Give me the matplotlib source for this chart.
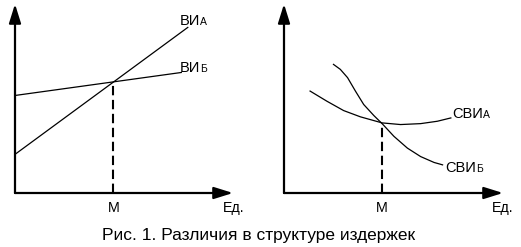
import matplotlib
matplotlib.use("Agg")
import matplotlib.pyplot as plt
from matplotlib.patches import FancyArrowPatch

plt.rcParams['font.family'] = ['Liberation Sans', 'DejaVu Sans']

# ---- data ----
vi_a_x = [0.0, 8.0]
vi_a_y = [2.1, 9.0]
vi_b_x = [0.0, 7.7]
vi_b_y = [5.3, 6.55]
m_left = 4.55
m_left_y = 6.05

svi_a_x = [1.26, 2.07, 2.88, 3.69, 4.74, 5.63, 6.60, 7.41, 8.06]
svi_a_y = [5.54, 4.99, 4.48, 4.14, 3.81, 3.72, 3.77, 3.90, 4.08]
svi_b_x = [2.39, 2.72, 3.07, 3.45, 3.85, 4.34, 4.74, 5.31, 5.96, 6.60, 7.25, 7.66]
svi_b_y = [6.99, 6.72, 6.27, 5.54, 4.81, 4.21, 3.77, 3.08, 2.44, 1.98, 1.66, 1.53]
m_right = 4.74
m_right_y = 3.80

x_tick_label = "М"
x_axis_label = "Ед."
caption = "Рис. 1. Различия в структуре издержек"

W, H = 521, 247
fig = plt.figure(figsize=(W / 100, H / 100), dpi=100)


def make_axes(x0, x1, y0, y1, x_tip, y_tip):
    ax = fig.add_axes([x0 / W, (H - y0) / H, (x1 - x0) / W, (y0 - y1) / H])
    ax.set_xlim(0, 10)
    ax.set_ylim(0, 10)
    ax.axis('off')
    fx = (x_tip - x0) / (x1 - x0)
    fy = (y0 - y_tip) / (y0 - y1)
    for (a, b) in [((0, 0), (fx, 0)), ((0, 0), (0, fy))]:
        arr = FancyArrowPatch(a, b, transform=ax.transAxes,
                              arrowstyle='-|>,head_length=1.15,head_width=0.36',
                              mutation_scale=10, color='black', lw=1.6,
                              shrinkA=0, shrinkB=0, clip_on=False)
        ax.add_patch(arr)
    return ax


renderer = fig.canvas.get_renderer()


def label_sub(ax, x, y, main, sub, size=10.5, subsize=7.5):
    t = ax.text(x, y, main, fontsize=size, ha='left', va='baseline')
    bb = t.get_window_extent(renderer)
    fig.text((bb.x1 - 0.5) / W, bb.y0 / H + 0.003, sub,
             fontsize=subsize, ha='left', va='bottom')


# left panel
axL = make_axes(15, 231, 193, 9, 233, 4)
axL.plot(vi_a_x, vi_a_y, color='black', lw=0.9)
axL.plot(vi_b_x, vi_b_y, color='black', lw=0.9)
axL.plot([m_left, m_left], [0, m_left_y], color='black', lw=1.5,
         dashes=(4.5, 2.2))
axL.text(m_left, -0.45, x_tick_label, fontsize=10.3, ha='center', va='top')
axL.text(9.63, -0.45, x_axis_label, fontsize=10.3, ha='left', va='top')

# right panel
axR = make_axes(284, 491, 193, 9, 503, 4)
axR.plot(svi_a_x, svi_a_y, color='black', lw=0.9)
axR.plot(svi_b_x, svi_b_y, color='black', lw=0.9)
axR.plot([m_right, m_right], [0, m_right_y], color='black', lw=1.5,
         dashes=(4.5, 2.2))
axR.text(m_right, -0.45, x_tick_label, fontsize=10.3, ha='center', va='top')
axR.text(10.05, -0.45, x_axis_label, fontsize=10.3, ha='left', va='top')

fig.canvas.draw()
label_sub(axL, 7.65, 9.15, "ВИ", "А")
label_sub(axL, 7.65, 6.6, "ВИ", "Б")
label_sub(axR, 8.15, 4.1, "СВИ", "А")
label_sub(axR, 7.8, 1.15, "СВИ", "Б")

fig.text(259 / W, 1 - 240 / H, caption, fontsize=12.5, ha='center',
         va='baseline')

fig.savefig("out.png", dpi=100, facecolor='white')
